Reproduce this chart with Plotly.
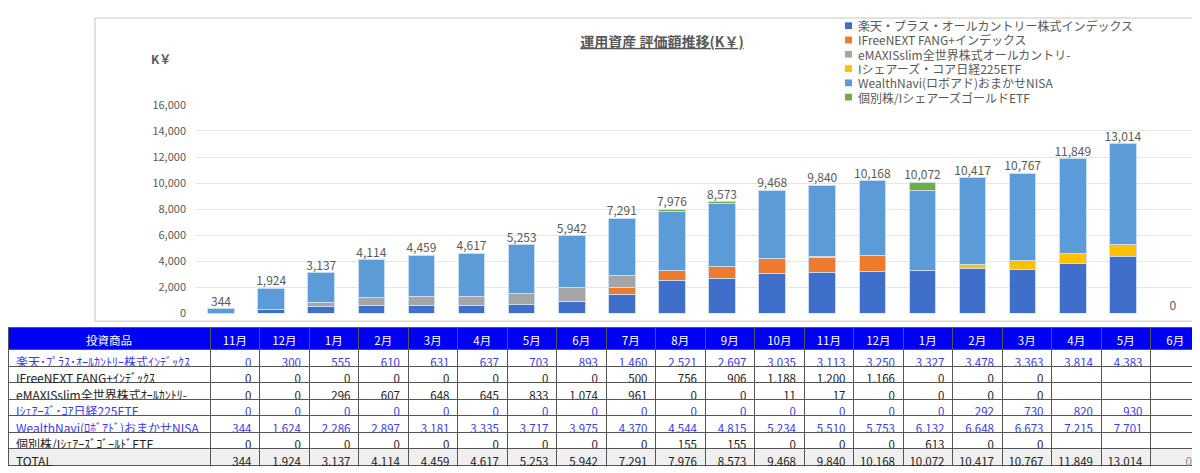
import plotly.graph_objects as go

# 月（横軸は表と共用）
months = ["11月", "12月", "1月", "2月", "3月", "4月", "5月", "6月", "7月", "8月",
          "9月", "10月", "11月", "12月", "1月", "2月", "3月", "4月", "5月", "6月"]

legend_names = [
    "楽天・プラス・オールカントリー株式インデックス",
    "IFreeNEXT FANG+インデックス",
    "eMAXISslim全世界株式オールカントリ-",
    "Iシェアーズ・コア日経225ETF",
    "WealthNavi(ロボアド)おまかせNISA",
    "個別株/IシェアーズゴールドETF",
]
table_names = [
    "楽天･ﾌﾟﾗｽ･ｵｰﾙｶﾝﾄﾘｰ株式ｲﾝﾃﾞｯｸｽ",
    "IFreeNEXT FANG+ｲﾝﾃﾞｯｸｽ",
    "eMAXISslim全世界株式ｵｰﾙｶﾝﾄﾘ-",
    "Iｼｪｱｰｽﾞ･ｺｱ日経225ETF",
    "WealthNavi(ﾛﾎﾞｱﾄﾞ)おまかせNISA",
    "個別株/IｼｪｱｰｽﾞｺﾞｰﾙﾄﾞETF",
]

rakuten = [0, 300, 555, 610, 631, 637, 703, 893, 1460, 2521, 2697, 3035, 3113, 3250, 3327, 3478, 3363, 3814, 4383, None]
fang = [0, 0, 0, 0, 0, 0, 0, 0, 500, 756, 906, 1188, 1200, 1166, 0, 0, 0, None, None, None]
emaxis = [0, 0, 296, 607, 648, 645, 833, 1074, 961, 0, 0, 11, 17, 0, 0, 0, 0, None, None, None]
nikkei225 = [0, 0, 0, 0, 0, 0, 0, 0, 0, 0, 0, 0, 0, 0, 0, 292, 730, 820, 930, None]
wealthnavi = [344, 1624, 2286, 2897, 3181, 3335, 3717, 3975, 4370, 4544, 4815, 5234, 5510, 5753, 6132, 6648, 6673, 7215, 7701, None]
gold = [0, 0, 0, 0, 0, 0, 0, 0, 0, 155, 155, 0, 0, 0, 613, 0, 0, None, None, None]
total = [344, 1924, 3137, 4114, 4459, 4617, 5253, 5942, 7291, 7976, 8573, 9468, 9840, 10168, 10072, 10417, 10767, 11849, 13014, 0]

series = [rakuten, fang, emaxis, nikkei225, wealthnavi, gold]
colors = ["#3F6FCB", "#EE7A2E", "#A5A5A5", "#FFC000", "#5A9BD8", "#6DAE45"]
row_font = ["#3A3AF0", "#222222", "#222222", "#3A3AF0", "#3A3AF0", "#222222"]

# ページ余白(8px)ぶんずれるので、その分を差し引いた大きさ
W, H = 1192, 465
xs = list(range(len(months)))
gray = "#595959"
font_family = "Noto Sans CJK JP"

fig = go.Figure()

for name, vals, col in zip(legend_names, series, colors):
    fig.add_trace(go.Bar(
        x=xs, y=vals, name=name, width=0.53, showlegend=False,
        marker=dict(color=col, line=dict(color="#C9DCF0", width=1)),
    ))

# 合計ラベル
fig.add_trace(go.Scatter(
    x=xs, y=total, mode="text", text=[f"{v:,}" for v in total],
    textposition="top center", textfont=dict(size=12, color=gray),
    showlegend=False, cliponaxis=False, hoverinfo="skip",
))


def fmt(v):
    return "" if v is None else f"{v:,}"


# 表
header = ["投資商品"] + months
first_col = table_names + ["TOTAL"]
cols = [first_col]
font_cols = [row_font + ["#222222"]]
fill_cols = [["white"] * 6 + ["#EFEFEF"]]
for i in xs:
    cols.append([fmt(s[i]) for s in series] + [fmt(total[i])])
    fc = row_font + ["#222222"]
    if i == len(xs) - 1:
        fc = row_font + ["#888888"]
    font_cols.append(fc)
    fill_cols.append(["white"] * 6 + ["#EFEFEF"])

fig.add_trace(go.Table(
    domain=dict(x=[0, 1], y=[0, (H - 322) / H]),
    columnwidth=[202] + [49.5] * 20,
    header=dict(
        values=header, fill_color="#0000F5", align="center",
        font=dict(color="white", size=11.5, family=font_family),
        line=dict(color="#555555", width=1), height=22,
    ),
    cells=dict(
        values=cols, fill_color=fill_cols,
        align=["left"] + ["right"] * 20,
        font=dict(color=font_cols, size=[12] + [11.5] * 20, family=font_family),
        line=dict(color="#555555", width=1), height=16.5,
    ),
))

# 枠線・単位・凡例
shapes = [dict(
    type="rect", xref="paper", yref="paper",
    x0=87 / W, x1=1.0, y0=(H - 315) / H, y1=0.998,
    line=dict(color="#D9D9D9", width=1.5), layer="below",
)]
annotations = [dict(
    text="<b>K￥</b>", x=153 / W, y=1 - 43 / H, xref="paper", yref="paper",
    xanchor="center", yanchor="middle",
    showarrow=False, font=dict(size=12, color=gray),
)]
for i, (name, col) in enumerate(zip(legend_names, colors)):
    yc = 9 + 14.8 * i
    shapes.append(dict(
        type="rect", xref="paper", yref="paper",
        x0=837 / W, x1=844 / W, y0=1 - (yc + 3.5) / H, y1=1 - (yc - 3.5) / H,
        fillcolor=col, line=dict(width=0),
    ))
    annotations.append(dict(
        text=name, x=848 / W, y=1 - yc / H, xref="paper", yref="paper",
        xanchor="left", yanchor="middle", showarrow=False,
        font=dict(size=12, color=gray),
    ))

fig.update_layout(
    width=W, height=H,
    margin=dict(l=0, r=0, t=0, b=0),
    barmode="stack",
    plot_bgcolor="white", paper_bgcolor="white",
    font=dict(family=font_family, color=gray),
    title=dict(
        text="<b><u>運用資産 評価額推移(K￥)</u></b>",
        x=654 / W, xanchor="center", y=1 - 34 / H, yanchor="middle",
        font=dict(size=14, color=gray),
    ),
    xaxis=dict(
        domain=[188 / W, 1190 / W], range=[-0.5, 19.5],
        showticklabels=False, showgrid=False, zeroline=False, fixedrange=True,
    ),
    yaxis=dict(
        domain=[(H - 307) / H, (H - 91) / H], range=[0, 16000],
        tickvals=list(range(0, 16001, 2000)), tickformat=",",
        gridcolor="#E6E6E6", zeroline=False, ticks="",
        tickfont=dict(size=11, color=gray), ticklabelstandoff=9,
    ),
    shapes=shapes,
    annotations=annotations,
)

fig.write_html("out.html")
